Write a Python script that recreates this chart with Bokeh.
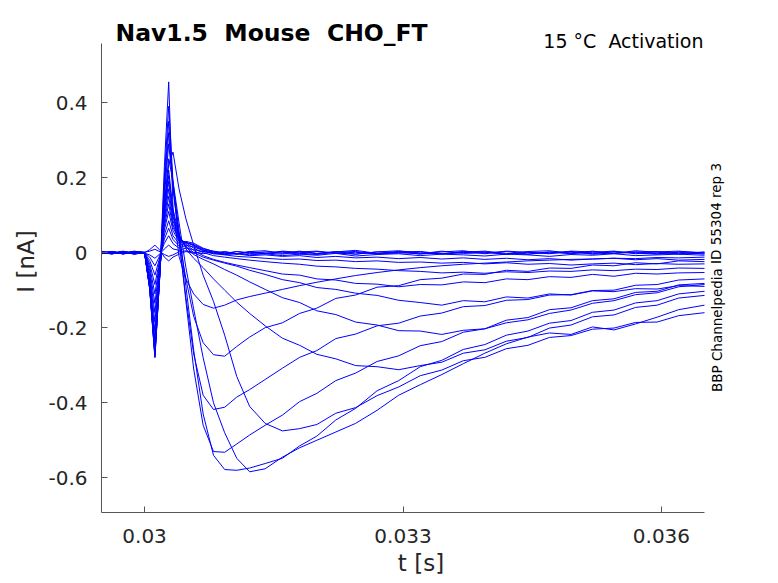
from bokeh.plotting import figure
from bokeh.models import FixedTicker, Label
from bokeh.embed import file_html
from bokeh.resources import INLINE

# time axis shared by all sweeps (s)
t_s = [0.02950, 0.02962, 0.02975, 0.02988, 0.03000, 0.03006, 0.03012, 0.03018, 0.03023, 0.03028,
       0.03033, 0.03040, 0.03048, 0.03057, 0.03068, 0.03080, 0.03093, 0.03107, 0.03122, 0.03140,
       0.03160, 0.03180, 0.03200, 0.03222, 0.03245, 0.03270, 0.03295, 0.03320, 0.03345, 0.03370,
       0.03395, 0.03420, 0.03445, 0.03470, 0.03495, 0.03520, 0.03545, 0.03570, 0.03595, 0.03620, 0.03650]

# current of each voltage step (nA)
sweep_01 = [0.004, -0.003, 0.002, -0.004, 0.000, 0.008, 0.020, 0.006, -0.012, -0.022,
            -0.012, -0.004, 0.003, -0.002, 0.004, -0.003, 0.002, -0.004, 0.003, 0.005,
            -0.002, 0.004, -0.003, 0.002, 0.006, -0.002, 0.003, -0.004, 0.002, 0.005,
            -0.003, 0.004, 0.001, -0.003, 0.004, 0.002, -0.002, 0.005, 0.001, -0.003, 0.002]
sweep_02 = [-0.002, 0.003, -0.004, 0.002, 0.001, 0.004, 0.009, 0.002, -0.005, -0.010,
            -0.006, 0.002, 0.005, 0.001, -0.003, 0.002, -0.004, 0.003, 0.000, -0.003,
            0.004, 0.001, -0.002, 0.003, -0.004, 0.002, 0.005, -0.001, -0.003, 0.003,
            0.001, -0.004, 0.003, 0.005, -0.002, 0.001, 0.004, -0.003, 0.002, 0.004, -0.001]
sweep_03 = [0.001, -0.004, 0.003, -0.001, -0.002, -0.006, -0.015, -0.003, 0.010, 0.020,
            0.010, 0.006, 0.012, 0.008, 0.003, -0.002, 0.003, -0.003, 0.002, -0.001,
            -0.004, 0.002, 0.004, -0.002, 0.001, -0.004, 0.002, 0.003, -0.003, 0.001,
            0.004, -0.002, -0.004, 0.002, 0.001, -0.003, 0.003, -0.001, -0.004, 0.002, 0.000]
sweep_04 = [-0.003, 0.002, -0.002, 0.004, 0.000, -0.012, -0.035, -0.006, 0.025, 0.045,
            0.024, 0.012, 0.020, 0.015, 0.006, 0.002, -0.002, 0.003, -0.003, 0.002,
            0.001, -0.004, 0.003, -0.001, -0.004, 0.002, 0.000, -0.003, 0.004, -0.002,
            -0.001, 0.003, -0.004, 0.001, -0.003, 0.004, -0.002, 0.001, 0.003, -0.004, -0.001]
sweep_05 = [0.002, -0.002, 0.004, -0.003, -0.001, -0.021, -0.060, -0.010, 0.036, 0.065,
            0.035, 0.018, 0.026, 0.022, 0.010, 0.004, 0.000, -0.004, 0.002, -0.003,
            0.003, -0.002, -0.005, 0.001, 0.003, -0.003, -0.001, 0.002, -0.004, 0.000,
            0.002, -0.005, 0.001, -0.002, 0.003, -0.004, -0.001, 0.002, -0.003, 0.001, -0.004]
sweep_06 = [-0.001, 0.003, -0.003, 0.001, 0.000, -0.030, -0.085, -0.014, 0.047, 0.085,
            0.045, 0.024, 0.030, 0.025, 0.012, 0.003, -0.004, -0.002, -0.006, -0.003,
            -0.008, -0.004, -0.007, -0.002, -0.009, -0.005, -0.003, -0.008, -0.004, -0.006,
            -0.009, -0.004, -0.006, -0.010, -0.005, -0.007, -0.003, -0.008, -0.006, -0.004, -0.007]
sweep_07 = [0.003, -0.001, 0.002, -0.004, 0.001, -0.038, -0.110, -0.018, 0.060, 0.110,
            0.058, 0.030, 0.028, 0.020, 0.008, 0.000, -0.005, -0.003, -0.008, -0.006,
            -0.010, -0.008, -0.013, -0.010, -0.014, -0.012, -0.016, -0.013, -0.017, -0.014,
            -0.018, -0.015, -0.019, -0.016, -0.020, -0.017, -0.015, -0.019, -0.016, -0.020, -0.018]
sweep_08 = [-0.002, 0.002, -0.003, 0.003, -0.001, -0.047, -0.135, -0.022, 0.070, 0.130,
            0.068, 0.034, 0.028, 0.018, 0.006, -0.003, -0.006, -0.010, -0.012, -0.015,
            -0.018, -0.017, -0.021, -0.020, -0.024, -0.022, -0.026, -0.025, -0.028, -0.026,
            -0.030, -0.027, -0.031, -0.029, -0.033, -0.030, -0.028, -0.032, -0.029, -0.031, -0.030]
sweep_09 = [0.001, -0.003, 0.003, -0.002, 0.000, -0.056, -0.160, -0.026, 0.080, 0.150,
            0.075, 0.036, 0.026, 0.012, 0.000, -0.008, -0.012, -0.016, -0.020, -0.024,
            -0.028, -0.031, -0.036, -0.038, -0.042, -0.044, -0.048, -0.050, -0.054, -0.052,
            -0.055, -0.051, -0.053, -0.049, -0.050, -0.046, -0.048, -0.044, -0.045, -0.041, -0.042]
sweep_10 = [-0.003, 0.002, -0.001, 0.003, 0.001, -0.064, -0.185, -0.030, 0.090, 0.170,
            0.085, 0.040, 0.022, 0.006, -0.008, -0.018, -0.026, -0.033, -0.040, -0.048,
            -0.057, -0.060, -0.070, -0.073, -0.082, -0.084, -0.091, -0.085, -0.086, -0.078,
            -0.080, -0.070, -0.072, -0.064, -0.066, -0.058, -0.063, -0.055, -0.057, -0.054, -0.053]
sweep_11 = [0.002, -0.002, 0.001, -0.003, 0.000, -0.073, -0.210, -0.034, 0.100, 0.190,
            0.095, 0.042, 0.018, 0.000, -0.012, -0.020, -0.028, -0.036, -0.047, -0.058,
            -0.072, -0.080, -0.093, -0.098, -0.108, -0.114, -0.127, -0.133, -0.140, -0.128,
            -0.131, -0.118, -0.121, -0.110, -0.113, -0.102, -0.104, -0.096, -0.097, -0.088, -0.090]
sweep_12 = [-0.001, 0.003, -0.002, 0.002, -0.001, -0.080, -0.230, -0.038, 0.110, 0.205,
            0.105, 0.045, 0.015, -0.005, -0.018, -0.030, -0.045, -0.060, -0.078, -0.098,
            -0.120, -0.133, -0.155, -0.165, -0.185, -0.193, -0.208, -0.209, -0.218, -0.207,
            -0.203, -0.187, -0.179, -0.162, -0.153, -0.135, -0.128, -0.112, -0.107, -0.091, -0.085]
sweep_13 = [0.003, -0.001, 0.002, -0.002, 0.000, -0.085, -0.245, -0.040, 0.118, 0.220,
            0.115, 0.050, 0.010, -0.015, -0.040, -0.070, -0.100, -0.132, -0.162, -0.195,
            -0.228, -0.247, -0.271, -0.283, -0.301, -0.304, -0.312, -0.301, -0.292, -0.268,
            -0.259, -0.236, -0.226, -0.201, -0.193, -0.171, -0.166, -0.146, -0.140, -0.121, -0.114]
sweep_14 = [-0.002, 0.002, -0.003, 0.001, 0.000, -0.090, -0.260, -0.042, 0.120, 0.235,
            0.268, 0.170, 0.090, 0.020, -0.060, -0.130, -0.220, -0.330, -0.410, -0.455,
            -0.475, -0.469, -0.458, -0.428, -0.413, -0.381, -0.358, -0.328, -0.313, -0.288,
            -0.279, -0.256, -0.247, -0.226, -0.221, -0.204, -0.201, -0.186, -0.185, -0.168, -0.160]
sweep_15 = [0.001, -0.003, 0.002, -0.001, -0.001, -0.092, -0.265, -0.044, 0.130, 0.250,
            0.190, 0.080, -0.040, -0.150, -0.280, -0.400, -0.480, -0.548, -0.584, -0.576,
            -0.545, -0.520, -0.500, -0.478, -0.455, -0.420, -0.380, -0.352, -0.325, -0.296,
            -0.268, -0.243, -0.225, -0.214, -0.218, -0.198, -0.206, -0.190, -0.172, -0.152, -0.140]
sweep_16 = [-0.002, 0.001, -0.002, 0.003, 0.000, -0.094, -0.270, -0.046, 0.150, 0.290,
            0.180, 0.060, -0.090, -0.260, -0.430, -0.540, -0.578, -0.580, -0.574, -0.562,
            -0.548, -0.515, -0.489, -0.446, -0.415, -0.368, -0.341, -0.304, -0.287, -0.258,
            -0.245, -0.220, -0.209, -0.188, -0.181, -0.159, -0.153, -0.134, -0.128, -0.110, -0.103]
sweep_17 = [0.002, -0.002, 0.003, -0.003, 0.001, -0.095, -0.272, -0.047, 0.165, 0.320,
            0.170, 0.040, -0.130, -0.310, -0.460, -0.530, -0.532, -0.510, -0.486, -0.460,
            -0.433, -0.397, -0.375, -0.341, -0.321, -0.290, -0.275, -0.248, -0.237, -0.212,
            -0.203, -0.180, -0.173, -0.152, -0.147, -0.128, -0.123, -0.106, -0.103, -0.086, -0.082]
sweep_18 = [-0.001, 0.003, -0.001, 0.002, 0.000, -0.096, -0.275, -0.048, 0.180, 0.350,
            0.180, 0.030, -0.120, -0.270, -0.380, -0.418, -0.412, -0.385, -0.365, -0.338,
            -0.308, -0.279, -0.261, -0.229, -0.217, -0.195, -0.188, -0.169, -0.161, -0.144,
            -0.141, -0.127, -0.125, -0.113, -0.112, -0.101, -0.100, -0.087, -0.085, -0.073, -0.070]
sweep_19 = [0.002, -0.001, 0.002, -0.002, -0.001, -0.097, -0.278, -0.048, 0.200, 0.390,
            0.190, 0.040, -0.070, -0.170, -0.240, -0.272, -0.276, -0.250, -0.225, -0.200,
            -0.187, -0.162, -0.148, -0.122, -0.113, -0.092, -0.088, -0.072, -0.068, -0.057,
            -0.058, -0.047, -0.050, -0.041, -0.042, -0.033, -0.035, -0.027, -0.030, -0.022, -0.024]
sweep_20 = [-0.002, 0.002, -0.003, 0.002, 0.000, -0.098, -0.280, -0.049, 0.230, 0.455,
            0.120, -0.010, -0.070, -0.110, -0.138, -0.148, -0.140, -0.126, -0.117, -0.108,
            -0.098, -0.088, -0.079, -0.070, -0.061, -0.053, -0.046, -0.040, -0.035, -0.031,
            -0.028, -0.025, -0.022, -0.020, -0.018, -0.017, -0.015, -0.016, -0.013, -0.014, -0.012]

sweeps = [sweep_01, sweep_02, sweep_03, sweep_04, sweep_05, sweep_06, sweep_07, sweep_08,
          sweep_09, sweep_10, sweep_11, sweep_12, sweep_13, sweep_14, sweep_15, sweep_16,
          sweep_17, sweep_18, sweep_19, sweep_20]

x_ticks = [0.03, 0.033, 0.036]
x_tick_labels = ["0.03", "0.033", "0.036"]
y_ticks = [-0.6, -0.4, -0.2, 0, 0.2, 0.4]
y_tick_labels = ["-0.6", "-0.4", "-0.2", "0", "0.2", "0.4"]

FONT = "DejaVu Sans"
INK = "#262626"

# visible axes limits
x_lo, x_hi = 0.0295, 0.0365
y_lo, y_hi = -0.6925, 0.5573

# the frame is a bit larger than the axes so the texts around them are not clipped
W, H = 777, 582
left, right, top, bottom = 101, 740, 10, 512      # frame edges in pixels
ax_right, ax_top = 704, 43                        # where the axes end
px_x = (ax_right - left) / (x_hi - x_lo)
px_y = (bottom - ax_top) / (y_hi - y_lo)
x_end = x_hi + (right - ax_right) / px_x
y_end = y_hi + (ax_top - top) / px_y

p = figure(width=W, height=H, title=None,
           x_range=(x_lo, x_end), y_range=(y_lo, y_end),
           output_backend="svg", toolbar_location=None,
           min_border_left=left, min_border_right=W - right,
           min_border_top=top, min_border_bottom=H - bottom)
p.outline_line_color = None
p.grid.visible = False
p.background_fill_color = "white"

for sw in sweeps:
    p.line(t_s, sw, line_color="#0000ff", line_width=1)

p.xaxis.bounds = (x_lo, x_hi)
p.yaxis.bounds = (y_lo, y_hi)
p.xaxis.ticker = FixedTicker(ticks=x_ticks)
p.xaxis.major_label_overrides = dict(zip(x_ticks, x_tick_labels))
p.yaxis.ticker = FixedTicker(ticks=y_ticks)
p.yaxis.major_label_overrides = dict(zip(y_ticks, y_tick_labels))

p.axis.axis_line_color = "#555555"
p.axis.major_tick_line_color = "#555555"
p.axis.major_tick_in = 6
p.axis.major_tick_out = 0
p.axis.minor_tick_line_color = None
p.axis.major_label_text_font = FONT
p.axis.major_label_text_font_size = "20px"
p.axis.major_label_text_color = INK
p.axis.axis_label_text_font = FONT
p.axis.axis_label_text_font_size = "23px"
p.axis.axis_label_text_font_style = "normal"
p.axis.axis_label_text_color = INK

p.xaxis.axis_label = "t [s]"
p.yaxis.axis_label = "I [nA]"
p.xaxis.major_label_standoff = 16
p.xaxis.axis_label_standoff = 4
p.yaxis.major_label_standoff = 14
p.yaxis.axis_label_standoff = 6

p.add_layout(Label(x=x_lo + 14 / px_x, y=y_hi + 11 / px_y, text="Nav1.5 \u00a0Mouse \u00a0CHO_FT",
                   text_font=FONT, text_font_size="23.5px", text_font_style="bold",
                   text_color="black", text_align="left", text_baseline="alphabetic"))
p.add_layout(Label(x=x_hi - 1 / px_x, y=y_hi + 3 / px_y, text="15 °C \u00a0Activation",
                   text_font=FONT, text_font_size="19px",
                   text_color="black", text_align="right", text_baseline="alphabetic"))
p.add_layout(Label(x=x_hi + 12 / px_x, y=y_hi - 234 / px_y, text="BBP Channelpedia ID 55304 rep 3",
                   text_font=FONT, text_font_size="13.5px", angle=1.5708,
                   text_color="black", text_align="center", text_baseline="middle"))

open("out.html", "w").write(file_html(p, INLINE))
